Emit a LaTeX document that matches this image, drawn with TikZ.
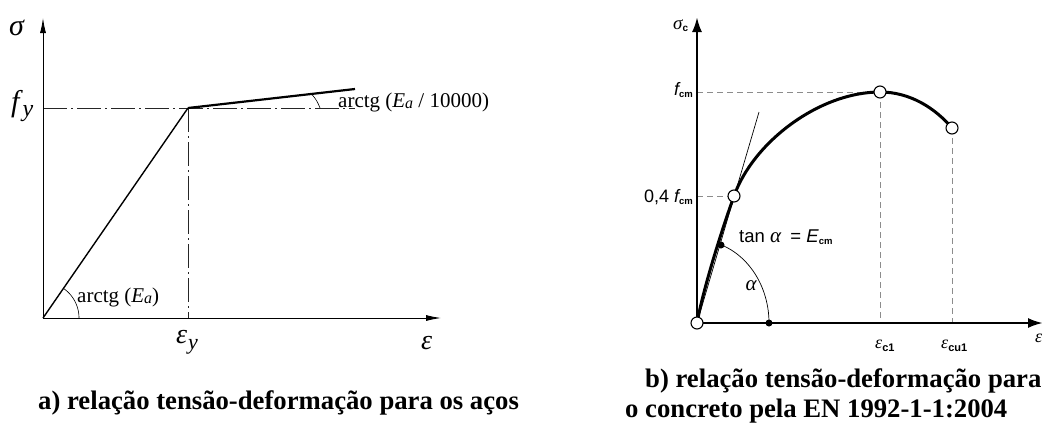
\documentclass[tikz,border=0pt]{standalone}
\usepackage{fontspec}
\setmainfont{Liberation Serif}
\newfontfamily\arialf{Liberation Sans}
\usetikzlibrary{arrows.meta}
\newcommand\fsz[1]{\fontsize{#1}{#1}\selectfont}
\tikzset{
  thinaxis/.style={line width=0.9pt, -{Latex[length=15pt,width=6pt]}},
  thickaxis/.style={line width=2.4pt, -{Latex[length=15pt,width=10pt]}},
  dashdot/.style={line width=0.8pt, black!85, dash pattern=on 24pt off 4pt on 2pt off 4pt},
  grayd/.style={line width=1pt, black!45, dash pattern=on 6pt off 4pt},
  opencirc/.style={circle, draw, line width=1.1pt, fill=white, inner sep=0pt, minimum size=12pt},
  blackdot/.style={circle, fill, inner sep=0pt, minimum size=7pt},
  lbl/.style={inner sep=0pt, anchor=base west},
  lble/.style={inner sep=0pt, anchor=base east},
}
\begin{document}
\begin{tikzpicture}[x=1pt,y=-1pt]
\useasboundingbox (0,0) rectangle (1043,426);
% ---------------- left diagram ----------------
\coordinate (O1) at (43,318);
\coordinate (Y1) at (43,18);
\coordinate (X1) at (441,318);
\coordinate (YP) at (188,108);
\coordinate (FY) at (43,108);
\coordinate (FYE) at (355,108);
\coordinate (EY) at (188,318);
\coordinate (HE) at (355,89);
\draw[dashdot] (FY) -- (FYE);
\draw[dashdot] (YP) -- (EY);
\draw[thinaxis] (O1) -- (Y1);
\draw[thinaxis] (O1) -- (X1);
\draw[line width=1.4pt] (O1) -- (YP);
\draw[line width=2.2pt] (YP) -- (HE);
\draw[line width=0.6pt] plot[domain=0:55, samples=30] ({43+36*cos(\x)},{318-36*sin(\x)});
\draw[line width=0.6pt] (312,94.5) to[bend left=10] (320,108);
\node[lbl] (sig) at (9,35) {\fsz{30}\itshape σ};
\node[lbl] (fy) at (11,111) {\fsz{30}\itshape f\kern3pt\raisebox{-5pt}{\fsz{24}y}};
\node[lbl] (ey) at (176,343) {\fsz{28}\itshape ε\kern1pt\raisebox{-6pt}{\fsz{22}y}};
\node[lbl] (eps) at (421,349) {\fsz{28}\itshape ε};
\node[lbl] (arc1) at (338,107) {\fsz{21}arctg (\textit{E}\raisebox{-1pt}{\fsz{16}\itshape a} / 10000)};
\node[lbl] (arc2) at (77,302) {\fsz{21}arctg (\textit{E}\raisebox{-1pt}{\fsz{16}\itshape a})};
\node[lbl] (capa) at (38,409) {\fsz{26.7}\bfseries a) relação tensão-deformação para os aços};
% ---------------- right diagram ----------------
\coordinate (O2) at (697,323);
\coordinate (Y2) at (697,17);
\coordinate (X2) at (1043,323);
\coordinate (P1) at (734,196);
\coordinate (P2) at (880,92);
\coordinate (P3) at (952,128);
\coordinate (FC) at (697,92);
\coordinate (F4) at (697,196);
\coordinate (E1) at (880,323);
\coordinate (E2) at (952,323);
\coordinate (TT) at (759,112);
\coordinate (dA) at (721,245);
\coordinate (dB) at (769,323);
\draw[grayd] (FC) -- (P2);
\draw[grayd] (F4) -- (P1);
\draw[grayd] (P2) -- (E1);
\draw[grayd] (P3) -- (E2);
\draw[thickaxis] (O2) -- (Y2);
\draw[thickaxis] (O2) -- (X2);
\draw[line width=0.7pt] (O2) -- (TT);
\draw[line width=3pt] (O2) .. controls (703,290) and (720,235) .. (P1)
  .. controls (753.6,141.4) and (820,92) .. (P2)
  .. controls (910,92) and (935,108) .. (P3);
\draw[line width=0.7pt] plot[domain=0:70.5, samples=40] ({697+72*cos(\x)},{323-83*sin(\x)});
\node[opencirc] (cO) at (O2) {};
\node[opencirc] (c1) at (P1) {};
\node[opencirc] (c2) at (P2) {};
\node[opencirc] (c3) at (P3) {};
\node[blackdot] (bA) at (dA) {};
\node[blackdot] (bB) at (dB) {};
\node[lbl] (sigc) at (673,29) {\fsz{19}\itshape σ\raisebox{-2pt}{\arialf\upshape\bfseries\fsz{10}c}};
\node[lble] (fcm) at (693,95) {\arialf\fsz{18}\itshape f\raisebox{-2pt}{\upshape\bfseries\fsz{9.5}cm}};
\node[lble] (f04) at (693,202) {\arialf\fsz{18}0,4 \itshape f\raisebox{-2pt}{\upshape\bfseries\fsz{9.5}cm}};
\node[lbl] (tana) at (739,242) {\arialf\fsz{18.5}tan \textrm{\fsz{21}\itshape α}\hspace{9pt}= \textit{E}\raisebox{-2pt}{\bfseries\fsz{9.5}cm}};
\node[anchor=center, inner sep=0pt] (alf) at (751,286) {\fsz{21}\itshape α};
\node[lbl] (ec1) at (875,348) {\fsz{18}\itshape ε\raisebox{-3pt}{\arialf\upshape\bfseries\fsz{11}c1}};
\node[lbl] (ecu1) at (941,348) {\fsz{18}\itshape ε\raisebox{-3pt}{\arialf\upshape\bfseries\fsz{11}cu1}};
\node[lbl] (eps2) at (1035,342) {\fsz{18}\itshape ε};
\node[lbl] (capb1) at (645,387) {\fsz{26.7}\bfseries b) relação tensão-deformação para};
\node[lbl] (capb2) at (625,417) {\fsz{26.7}\bfseries o concreto pela EN 1992-1-1:2004};
\end{tikzpicture}
\end{document}
